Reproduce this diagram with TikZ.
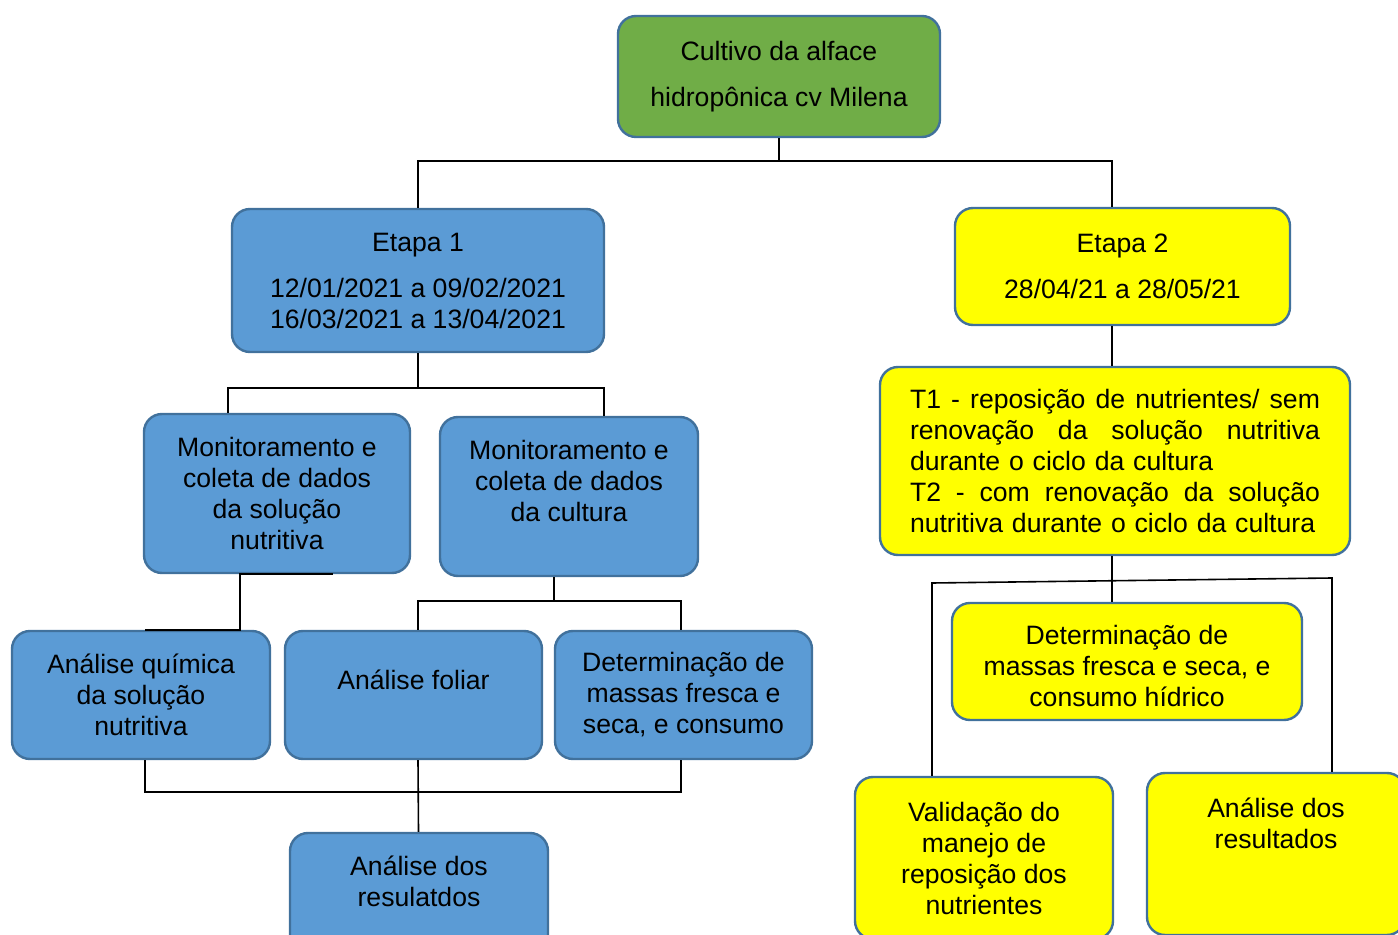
\documentclass[tikz,border=0pt]{standalone}
\usepackage{fontspec}
\setmainfont{Liberation Sans}
\definecolor{azul}{HTML}{5B9BD5}
\definecolor{borda}{HTML}{41719C}
\definecolor{verde}{HTML}{70AD47}
\definecolor{amarelo}{HTML}{FFFF00}

\begin{document}
\begin{tikzpicture}[x=0.5pt,y=-0.5pt,
    caixa/.style={draw=borda,line width=1.2pt,rounded corners=9pt,align=center,inner sep=2pt,
      font=\fontsize{13.3}{15.5}\selectfont},
    etapa1/.style={caixa,fill=azul},
    etapa2/.style={caixa,fill=amarelo},
    liga/.style={line width=0.8pt}]
      \useasboundingbox (0,0) rectangle (1398,935);
      \clip (0,0) rectangle (1398,935);
      \node[caixa,fill=verde,minimum width=161pt,minimum height=60.5pt] (root) at (779,76.5) {Cultivo da alface\\[7.5pt]hidropônica cv Milena};
      \node[etapa1,minimum width=186pt,minimum height=71.5pt] (e1) at (418,280.5) {Etapa 1\\[7.5pt]12/01/2021 a 09/02/2021\\16/03/2021 a 13/04/2021};
      \node[etapa2,minimum width=167.5pt,minimum height=58.5pt] (e2) at (1122.5,266.5) {Etapa 2\\[7.5pt]28/04/21 a 28/05/21};
      \node[etapa2,minimum width=235pt,minimum height=94pt,align=left,text width=205pt] (tb) at (1115,461) {\makebox[205pt][l]{T1\hfill-\hfill reposição\hfill de\hfill nutrientes/\hfill sem}\\\makebox[205pt][l]{renovação\hfill da\hfill solução\hfill nutritiva}\\durante o ciclo da cultura\\\makebox[205pt][l]{T2\hfill-\hfill com\hfill renovação\hfill da\hfill solução}\\nutritiva durante o ciclo da cultura};
      \node[etapa1,minimum width=133pt,minimum height=79.5pt] (m1) at (277,493.5) {Monitoramento e\\coleta de dados\\da solução\\nutritiva};
      \node[etapa1,minimum width=129pt,minimum height=79.5pt] (m2) at (569,496.5) {Monitoramento e\\coleta de dados\\da cultura\\\mbox{}};
      \node[etapa1,minimum width=129pt,minimum height=64pt] (aq) at (141,695) {Análise química\\da solução\\nutritiva};
      \node[etapa1,minimum width=128.5pt,minimum height=64pt] (af) at (413.5,695) {Análise foliar\\\mbox{}};
      \node[etapa1,minimum width=128.5pt,minimum height=64pt] (dl) at (683.5,695) {Determinação de\\massas fresca e\\seca, e consumo};
      \node[etapa1,minimum width=129pt,minimum height=64pt] (rl) at (419,897) {Análise dos\\resulatdos\\\mbox{}};
      \node[etapa2,minimum width=175pt,minimum height=58.5pt] (dr) at (1127,661.5) {\rule{0pt}{14pt}Determinação de\\massas fresca e seca, e\\consumo hídrico};
      \node[etapa2,minimum width=129pt,minimum height=81pt] (vl) at (984,858) {Validação do\\manejo de\\reposição dos\\nutrientes};
      \node[etapa2,minimum width=129pt,minimum height=81pt] (rr) at (1276,854) {Análise dos\\resultados\\\mbox{}\\\mbox{}};
      \coordinate (r1) at (779,161);
      \coordinate (s1) at (418,388);
      \coordinate (s2) at (554,601);
      \coordinate (s3) at (418,792);
      \coordinate (t1) at (932,583);
      \coordinate (t2) at (1332,578);
      \draw[liga] (root.south) -- (r1);
      \draw[liga] (e1.north) |- (r1) -| ([xshift=-5.25pt]e2.north);
      \draw[liga] (e1.south) -- (s1);
      \draw[liga] ([xshift=-24.5pt]m1.north) |- (s1) -| ([xshift=17.5pt]m2.north);
      \draw[liga] ([xshift=28pt]m1.south) -- ([xshift=-18.5pt]m1.south) |- ([xshift=2pt]aq.north);
      \draw[liga] ([xshift=-7.5pt]m2.south) -- (s2);
      \draw[liga] ([xshift=2.25pt]af.north) |- (s2) -| ([xshift=-1.25pt]dl.north);
      \draw[liga] ([xshift=2pt]aq.south) |- (s3) -| ([xshift=-1.25pt]dl.south);
      \draw[liga] ([xshift=2.25pt]af.south) -- ([xshift=-0.25pt]rl.north);
      \draw[liga] ([xshift=-5.25pt]e2.south) -- ([xshift=-1.5pt]tb.north);
      \draw[liga] ([xshift=-1.5pt]tb.south) -- ([xshift=-7.5pt]dr.north);
      \draw[liga] ([xshift=-26pt]vl.north) -- (t1) -- (t2) -- ([xshift=28pt]rr.north);
\end{tikzpicture}
\end{document}
